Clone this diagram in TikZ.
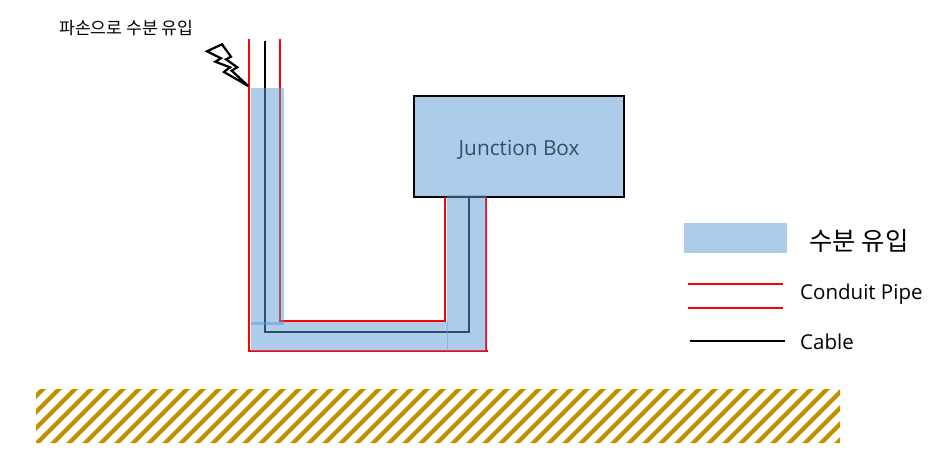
\documentclass[tikz,border=0pt]{standalone}
\usepackage{fontspec}
\setmainfont{Open Sans}
\newfontfamily\krfont{Noto Sans CJK KR}
\definecolor{waterc}{HTML}{5B9BD5}
\definecolor{waterp}{HTML}{ADCCEA}
\definecolor{boxtxt}{HTML}{2F4F70}
\definecolor{soil}{HTML}{BF9000}
\definecolor{pipec}{HTML}{FF0000}
\tikzset{
  pipeline/.style={draw=pipec,line width=2.8pt,line cap=butt,line join=miter},
  cableline/.style={draw=black,line width=2.8pt,line cap=butt,line join=miter},
  water/.style={fill=waterc,fill opacity=.5,draw=none},
  lab/.style={inner sep=0pt,anchor=west,text=black},
}
\begin{document}
\begin{tikzpicture}[x=1pt,y=-1pt]
\useasboundingbox (0,0) rectangle (940,464);
% ground
\begin{scope}
\clip (36,389) rectangle (840,443);
\foreach \i in {0,...,60}{
  \fill[soil] ({\i*16-30},443) -- ({\i*16-30+6},443) -- ({\i*16-30+60},389) -- ({\i*16-30+54},389) -- cycle;
}
\end{scope}
% coordinates of the pipes
\coordinate (ploT) at (249,39);
\coordinate (ploB) at (249,351);
\coordinate (proB) at (488,351);
\coordinate (proV) at (486,351);
\coordinate (proT) at (486,197);
\coordinate (pliT) at (280,39);
\coordinate (pliB) at (280,321);
\coordinate (priB) at (445,321);
\coordinate (priT) at (445,197);
\coordinate (caT) at (265,41);
\coordinate (caB) at (265,332);
\coordinate (caR) at (469,332);
\coordinate (caE) at (469,197);
% junction box
\node[draw=black,line width=2.2pt,fill=waterp,minimum width=210pt,minimum height=101pt,inner sep=0pt,anchor=north west,text=boxtxt,font=\fontsize{20.8}{24}\selectfont] (jb) at (413,95) {\raisebox{-9pt}[0pt][0pt]{Junction Box}};
% pipes and cable
\draw[pipeline] (ploT) -- (ploB) -- (proB);
\draw[pipeline] (proV) -- (proT);
\draw[pipeline] (pliT) -- (pliB) -- (priB) -- (priT);
\draw[cableline] (caT) -- (caB) -- (caR) -- (caE);
% water
\fill[water] (251,88) rectangle (284,325);
\fill[water] (251,322) rectangle (284,351) ;
\fill[water] (284,322) rectangle (447.5,351);
\fill[water] (447,195) rectangle (486,351);
% lightning
\draw[black,line width=2.2pt,fill=white,line join=miter,miter limit=8]
 (207,51.3) -- (222,44.3) -- (231,56.7) -- (226,59.3) -- (237.3,67.3) -- (231.7,70.7) -- (248.3,86) -- (224,72) -- (230,67.3) -- (215.3,61.7) -- (221,58.3) -- cycle;
% labels
\node[lab,font=\krfont\fontsize{17.2}{20}\selectfont] (t1) at (59,28) {파손으로 수분 유입};
% legend
\node[fill=waterp,minimum width=103pt,minimum height=30pt,inner sep=0pt,anchor=north west] (lw) at (684,223) {};
\node[lab,font=\krfont\fontsize{25.4}{30}\selectfont] (t2) at (809,241) {수분 유입};
\coordinate (l1a) at (688,284);
\coordinate (l1b) at (783,284);
\coordinate (l2a) at (688,308);
\coordinate (l2b) at (783,308);
\coordinate (l3a) at (690,341);
\coordinate (l3b) at (785,341);
\draw[pipeline] (l1a) -- (l1b);
\draw[pipeline] (l2a) -- (l2b);
\draw[cableline] (l3a) -- (l3b);
\node[lab,font=\fontsize{20.5}{24}\selectfont] (t3) at (800,294) {Conduit Pipe};
\node[lab,font=\fontsize{20.5}{24}\selectfont] (t4) at (800,342) {Cable};
\end{tikzpicture}
\end{document}
